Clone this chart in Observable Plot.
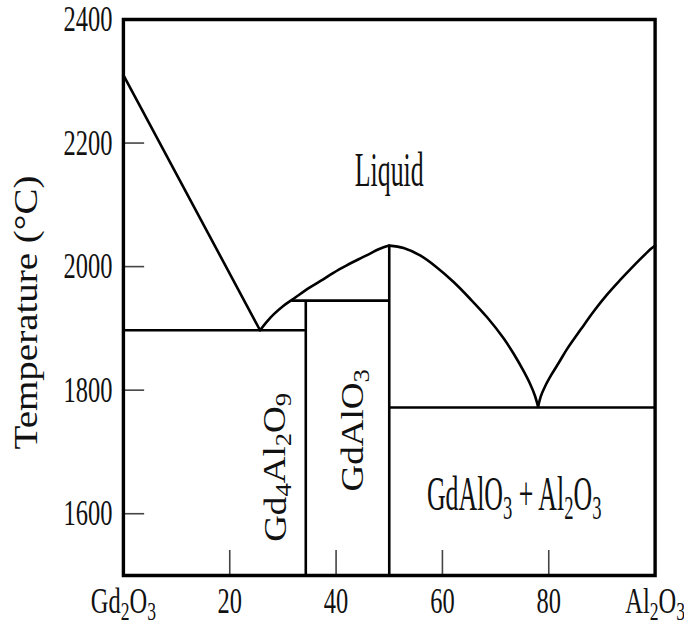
<!DOCTYPE html>
<html><head><meta charset="utf-8">
<script src="https://cdn.jsdelivr.net/npm/d3@7"></script>
<script src="https://cdn.jsdelivr.net/npm/@observablehq/plot@0.6"></script>
<style>
html,body{margin:0;padding:0;background:#fff;}
#chart svg *{vector-effect:non-scaling-stroke;}
</style></head><body><div id="chart"></div>
<script>
// ---- data ----
const leftLiquidus = [[0,2310],[25.7,1897]];
const riseBranch = [[25.7,1897],[27,1911],[28.3,1923],[30,1936],[32,1948],[35,1966],[37.5,1979],[39.5,1990],[42,2002],[44.5,2013],[46.4,2021],[48,2028],[50,2034]];
const fallBranch = [[50,2034],[52.7,2030],[55.8,2018],[58.9,1999],[62.1,1975],[65.2,1948],[68.4,1918],[71.5,1884],[73.4,1859],[75.2,1832],[76.5,1810],[77.4,1791],[78,1773]];
const rightLiquidus = [[78,1773],[78.5,1790],[79.3,1806],[80.5,1825],[82,1846],[83.4,1866],[86,1898],[88.4,1927],[91,1955],[93.4,1978],[95.5,1997],[97.2,2012],[98.5,2023],[99.4,2030],[100,2034]];
const hLines = [{x1:0,x2:34.3,y:1897},{x1:31.6,x2:50,y:1945},{x1:50,x2:100,y:1772}];
const vLines = [{x:34.3,y1:1500,y2:1945},{x:50,y1:1500,y2:2034}];
const regionText = ["Liquid","Gd_4Al_2O_9","GdAlO_3","GdAlO_3 + Al_2O_3"];
const regionX = [50,28.6,43.2,73.5];
const regionY = [2155,1675,1735,1630];
const regionRot = [0,-90,-90,0];
const regionSize = [38,37,37,38];
const yTicks = [1600,1800,2000,2200];
const yTickLabels = [1600,1800,2000,2200,2400];
const xTicks = [20,40,60,80];
const xLabelVals = [0,20,40,60,80,100];
const xLabelText = ["Gd_2O_3","20","40","60","80","Al_2O_3"];
const yTitle = "Temperature (°C)";

// ---- layout (horizontal compression of the drawing) ----
const SX = 0.68;
const ROT_FIX = 1.25;
const Wscreen = 684, H = 628;
const W = Math.round(Wscreen / SX);
const mL = 181, mR = 43, mT = 19, mB = 53;
const plotW = W - mL - mR, plotH = H - mT - mB;

const xMap = new Map(xLabelVals.map((v,i)=>[v,xLabelText[i]]));
const toObj = a => a.map(([x,y])=>({x,y}));
const labels = regionText.map((t,i)=>({t,x:regionX[i],y:regionY[i],r:regionRot[i],s:regionSize[i]}));

const svg = Plot.plot({
  width: W, height: H,
  marginLeft: mL, marginRight: mR, marginTop: mT, marginBottom: mB,
  style: {fontFamily: "'Liberation Serif', 'Times New Roman', serif", background: "#fff", color: "#000"},
  x: {domain: [0,100], label: null},
  y: {domain: [1500,2400], label: null},
  marks: [
    Plot.tickY(yTicks, {y: d=>d, stroke: "#444", strokeWidth: 1.6, insetRight: plotW - 31}),
    Plot.tickX(xTicks, {x: d=>d, stroke: "#444", strokeWidth: 1.6, insetTop: plotH - 25}),
    Plot.line(toObj(leftLiquidus), {x:"x", y:"y", stroke:"#000", strokeWidth:2.6}),
    Plot.line(toObj(riseBranch), {x:"x", y:"y", stroke:"#000", strokeWidth:2.6, curve:"catmull-rom"}),
    Plot.line(toObj(fallBranch), {x:"x", y:"y", stroke:"#000", strokeWidth:2.6, curve:"catmull-rom"}),
    Plot.line(toObj(rightLiquidus), {x:"x", y:"y", stroke:"#000", strokeWidth:2.6, curve:"catmull-rom"}),
    Plot.ruleY(hLines, {y:"y", x1:"x1", x2:"x2", stroke:"#000", strokeWidth:2.6}),
    Plot.ruleX(vLines, {x:"x", y1:"y1", y2:"y2", stroke:"#000", strokeWidth:2.6}),
    Plot.frame({stroke:"#000", strokeWidth:3.4}),
    Plot.text(labels, {x:"x", y:"y", text:"t", rotate:"r", fontSize:"s", fill:"#111"}),
    Plot.axisY(yTickLabels, {anchor:"left", tickSize:0, tickPadding:16, fontSize:36, tickFormat: d=>String(d), label:null, fill:"#111"}),
    Plot.axisX(xLabelVals, {anchor:"bottom", tickSize:0, tickPadding:12, fontSize:36, tickFormat: d=>xMap.get(d), label:null, fill:"#111"}),
    Plot.text([yTitle], {frameAnchor:"left", textAnchor:"middle", rotate:-90, dx:-143, dy:15, fontSize:39, fill:"#111"})
  ]
});

// subscripts
const NS = "http://www.w3.org/2000/svg";
svg.querySelectorAll("text").forEach(el=>{
  const s = el.textContent;
  if (s.includes("_")) {
    el.textContent = "";
    const parts = s.split(/(_\d)/).filter(p=>p.length);
    let low = false;
    for (const p of parts) {
      const t = document.createElementNS(NS, "tspan");
      if (p.startsWith("_")) {
        t.textContent = p.slice(1);
        t.setAttribute("font-size", "72%");
        if (!low) t.setAttribute("dy", "0.26em");
        low = true;
      } else {
        t.textContent = p;
        if (low) t.setAttribute("dy", "-0.19em");
        low = false;
      }
      el.appendChild(t);
    }
  }
  const tr = el.getAttribute("transform");
  if (tr && tr.includes("rotate(")) el.setAttribute("transform", tr + ` scale(1,${ROT_FIX})`);
});

svg.setAttribute("preserveAspectRatio", "none");
svg.setAttribute("width", Wscreen);
svg.setAttribute("height", H);
svg.style.width = Wscreen + "px";
svg.style.height = H + "px";
svg.style.maxWidth = "none";
document.getElementById("chart").appendChild(svg);
</script>
</body></html>
